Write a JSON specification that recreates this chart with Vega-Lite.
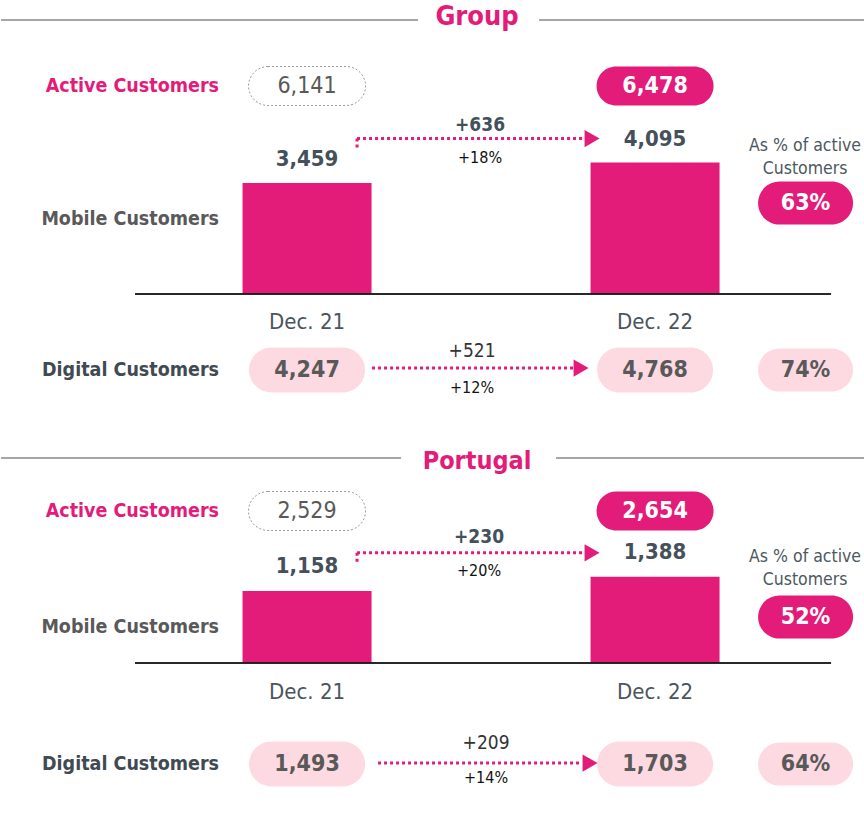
{
"$schema": "https://vega.github.io/schema/vega-lite/v6.json",
"padding": 0,
"spacing": 0,
"bounds": "flush",
"background": "#ffffff",
"resolve": {"scale": {"x": "shared"}},
"config": {"view": {"stroke": null}, "axis": {"disable": true}, "text": {"font": "DejaVu Sans Condensed"}},
"datasets": {
 "periods": [
  {"region": "Group", "period": "Dec. 21", "active": 6141, "mobile": 3459, "digital": 4247},
  {"region": "Group", "period": "Dec. 22", "active": 6478, "mobile": 4095, "digital": 4768},
  {"region": "Portugal", "period": "Dec. 21", "active": 2529, "mobile": 1158, "digital": 1493},
  {"region": "Portugal", "period": "Dec. 22", "active": 2654, "mobile": 1388, "digital": 1703}
 ],
 "changes": [
  {"region": "Group", "metric": "Mobile", "from": "Dec. 21", "to": "Dec. 22", "end": 4095, "delta": 636, "growth": 0.18},
  {"region": "Group", "metric": "Digital", "from": "Dec. 21", "to": "Dec. 22", "end": 4768, "delta": 521, "growth": 0.12},
  {"region": "Portugal", "metric": "Mobile", "from": "Dec. 21", "to": "Dec. 22", "end": 1388, "delta": 230, "growth": 0.20},
  {"region": "Portugal", "metric": "Digital", "from": "Dec. 21", "to": "Dec. 22", "end": 1703, "delta": 209, "growth": 0.14}
 ],
 "shares": [
  {"region": "Group", "metric": "Mobile", "share": 0.63},
  {"region": "Group", "metric": "Digital", "share": 0.74},
  {"region": "Portugal", "metric": "Mobile", "share": 0.52},
  {"region": "Portugal", "metric": "Digital", "share": 0.64}
 ],
 "labels": [
  {"region": "Group", "row": "title", "label": "Group"},
  {"region": "Group", "row": "active", "label": "Active Customers"},
  {"region": "Group", "row": "mobile", "label": "Mobile Customers"},
  {"region": "Group", "row": "digital", "label": "Digital Customers"},
  {"region": "Group", "row": "share", "label": "As % of active\nCustomers"},
  {"region": "Portugal", "row": "title", "label": "Portugal"},
  {"region": "Portugal", "row": "active", "label": "Active Customers"},
  {"region": "Portugal", "row": "mobile", "label": "Mobile Customers"},
  {"region": "Portugal", "row": "digital", "label": "Digital Customers"},
  {"region": "Portugal", "row": "share", "label": "As % of active\nCustomers"}
 ]
},
"vconcat": [
 {
  "width": 864, "height": 40,
  "data": {"name": "labels"},
  "transform": [{"filter": "datum.region === 'Group' && datum.row === 'title'"}],
  "layer": [
   {"mark": {"type": "rule", "color": "#A6A6A6", "strokeWidth": 2, "xOffset": -306, "x2Offset": 111},
    "encoding": {"x": {"datum": "Dec. 21", "type": "nominal", "scale": {"type": "band", "domain": ["Dec. 21", "Dec. 22"], "paddingInner": 0.6293, "paddingOuter": 0.556, "align": 0.619, "round": false}}, "x2": {"datum": "Dec. 21"}}},
   {"mark": {"type": "rule", "color": "#A6A6A6", "strokeWidth": 2, "xOffset": -116, "x2Offset": 212},
    "encoding": {"x": {"datum": "Dec. 22", "type": "nominal"}, "x2": {"datum": "Dec. 22"}}},
   {"mark": {"type": "text", "color": "#E31C79", "fontWeight": "bold", "fontSize": 27, "dx": 170, "dy": -3},
    "encoding": {"x": {"datum": "Dec. 21", "type": "nominal"}, "text": {"field": "label"}}}
  ]
 },
 {
  "width": 864, "height": 92,
  "data": {"name": "periods"},
  "transform": [{"filter": "datum.region === 'Group'"}],
  "layer": [
   {"data": {"name": "labels"}, "transform": [{"filter": "datum.region === 'Group' && datum.row === 'active'"}],
    "mark": {"type": "text", "align": "right", "dx": -88, "fontWeight": "bold", "fontSize": 19.5, "color": "#E31C79"},
    "encoding": {"x": {"datum": "Dec. 21", "type": "nominal", "scale": {"type": "band", "domain": ["Dec. 21", "Dec. 22"], "paddingInner": 0.6293, "paddingOuter": 0.556, "align": 0.619, "round": false}}, "text": {"field": "label"}}},
   {"transform": [{"filter": "datum.period === 'Dec. 21'"}],
    "mark": {"type": "point", "shape": "M -0.6667,-0.3333 L 0.6667,-0.3333 A 0.3333,0.3333 0 0 1 0.6667,0.3333 L -0.6667,0.3333 A 0.3333,0.3333 0 0 1 -0.6667,-0.3333 Z", "size": 13689, "filled": true, "fill": "#ffffff", "stroke": "#9B9B9B", "strokeWidth": 1, "strokeDash": [2, 2], "opacity": 1},
    "encoding": {"x": {"field": "period", "type": "nominal"}}},
   {"transform": [{"filter": "datum.period === 'Dec. 22'"}],
    "mark": {"type": "point", "shape": "M -0.6667,-0.3333 L 0.6667,-0.3333 A 0.3333,0.3333 0 0 1 0.6667,0.3333 L -0.6667,0.3333 A 0.3333,0.3333 0 0 1 -0.6667,-0.3333 Z", "size": 13689, "filled": true, "fill": "#E31C79", "strokeWidth": 0, "opacity": 1},
    "encoding": {"x": {"field": "period", "type": "nominal"}}},
   {"transform": [{"filter": "datum.period === 'Dec. 21'"}],
    "mark": {"type": "text", "fontSize": 23, "color": "#595959"},
    "encoding": {"x": {"field": "period", "type": "nominal"}, "text": {"field": "active", "format": ","}}},
   {"transform": [{"filter": "datum.period === 'Dec. 22'"}],
    "mark": {"type": "text", "fontSize": 23, "fontWeight": "bold", "color": "#ffffff"},
    "encoding": {"x": {"field": "period", "type": "nominal"}, "text": {"field": "active", "format": ","}}}
  ]
 },
 {
  "width": 864, "height": 162,
  "data": {"name": "periods"},
  "transform": [{"filter": "datum.region === 'Group'"}],
  "layer": [
   {"mark": {"type": "bar", "color": "#E31C79"},
    "encoding": {"x": {"field": "period", "type": "nominal", "scale": {"type": "band", "domain": ["Dec. 21", "Dec. 22"], "paddingInner": 0.6293, "paddingOuter": 0.556, "align": 0.619, "round": false}}, "y": {"field": "mobile", "type": "quantitative", "scale": {"domain": [0, 5048], "nice": false, "zero": true}}}},
   {"mark": {"type": "rule", "color": "#1a1a1a", "strokeWidth": 1.5, "xOffset": -172, "x2Offset": 176},
    "encoding": {"x": {"datum": "Dec. 21", "type": "nominal"}, "x2": {"datum": "Dec. 22"}, "y": {"datum": 0, "type": "quantitative"}}},
   {"mark": {"type": "text", "fontSize": 22, "fontWeight": "bold", "color": "#44505A", "dy": -24},
    "encoding": {"x": {"field": "period", "type": "nominal"}, "y": {"field": "mobile", "type": "quantitative"}, "text": {"field": "mobile", "format": ","}}},
   {"data": {"name": "labels"}, "transform": [{"filter": "datum.region === 'Group' && datum.row === 'mobile'"}],
    "mark": {"type": "text", "align": "right", "dx": -88, "dy": 6, "fontWeight": "bold", "fontSize": 19.5, "color": "#595959"},
    "encoding": {"x": {"datum": "Dec. 21", "type": "nominal"}, "text": {"field": "label"}}},
   {"data": {"name": "changes"}, "transform": [{"filter": "datum.region === 'Group' && datum.metric === 'Mobile'"}],
    "mark": {"type": "rule", "color": "#E31C79", "strokeWidth": 3, "strokeDash": [3, 3], "xOffset": 50, "x2Offset": -70, "yOffset": -24},
    "encoding": {"x": {"field": "from", "type": "nominal"}, "x2": {"field": "to"}, "y": {"field": "end", "type": "quantitative"}}},
   {"data": {"name": "changes"}, "transform": [{"filter": "datum.region === 'Group' && datum.metric === 'Mobile'"}],
    "mark": {"type": "rule", "color": "#E31C79", "strokeWidth": 3, "strokeDash": [3, 3], "xOffset": 50, "yOffset": -24, "y2Offset": -12},
    "encoding": {"x": {"field": "from", "type": "nominal"}, "y": {"field": "end", "type": "quantitative"}, "y2": {"field": "end"}}},
   {"data": {"name": "changes"}, "transform": [{"filter": "datum.region === 'Group' && datum.metric === 'Mobile'"}],
    "mark": {"type": "point", "shape": "M -1,-1.15 L 1,0 L -1,1.15 Z", "size": 225, "filled": true, "color": "#E31C79", "opacity": 1, "xOffset": -63, "yOffset": -24},
    "encoding": {"x": {"field": "to", "type": "nominal"}, "y": {"field": "end", "type": "quantitative"}}},
   {"data": {"name": "changes"}, "transform": [{"filter": "datum.region === 'Group' && datum.metric === 'Mobile'"}],
    "mark": {"type": "text", "fontSize": 19, "fontWeight": "bold", "color": "#44505A", "dx": 173, "dy": -38},
    "encoding": {"x": {"field": "from", "type": "nominal"}, "y": {"field": "end", "type": "quantitative"}, "text": {"field": "delta", "format": "+,"}}},
   {"data": {"name": "changes"}, "transform": [{"filter": "datum.region === 'Group' && datum.metric === 'Mobile'"}],
    "mark": {"type": "text", "fontSize": 16, "font": "Liberation Sans Narrow, DejaVu Sans Condensed", "color": "#111111", "dx": 173, "dy": -5},
    "encoding": {"x": {"field": "from", "type": "nominal"}, "y": {"field": "end", "type": "quantitative"}, "text": {"field": "growth", "format": "+.0%"}}},
   {"data": {"name": "labels"}, "transform": [{"filter": "datum.region === 'Group' && datum.row === 'share'"}],
    "mark": {"type": "text", "lineBreak": "\n", "lineHeight": 23, "fontSize": 17.5, "color": "#4D5860", "dx": 150, "dy": -67},
    "encoding": {"x": {"datum": "Dec. 22", "type": "nominal"}, "text": {"field": "label"}}},
   {"data": {"name": "shares"}, "transform": [{"filter": "datum.region === 'Group' && datum.metric === 'Mobile'"}],
    "mark": {"type": "point", "shape": "M -0.5474,-0.4526 L 0.5474,-0.4526 A 0.4526,0.4526 0 0 1 0.5474,0.4526 L -0.5474,0.4526 A 0.4526,0.4526 0 0 1 -0.5474,-0.4526 Z", "size": 9025, "filled": true, "fill": "#E31C79", "strokeWidth": 0, "opacity": 1, "xOffset": 150.5, "yOffset": -10},
    "encoding": {"x": {"datum": "Dec. 22", "type": "nominal"}}},
   {"data": {"name": "shares"}, "transform": [{"filter": "datum.region === 'Group' && datum.metric === 'Mobile'"}],
    "mark": {"type": "text", "fontSize": 23, "fontWeight": "bold", "color": "#ffffff", "dx": 150.5, "dy": -10},
    "encoding": {"x": {"datum": "Dec. 22", "type": "nominal"}, "text": {"field": "share", "format": ".0%"}}}
  ]
 },
 {
  "width": 864, "height": 52,
  "data": {"name": "periods"},
  "transform": [{"filter": "datum.region === 'Group'"}],
  "mark": {"type": "text", "fontSize": 22, "color": "#4A545C", "dy": 2},
  "encoding": {"x": {"field": "period", "type": "nominal", "scale": {"type": "band", "domain": ["Dec. 21", "Dec. 22"], "paddingInner": 0.6293, "paddingOuter": 0.556, "align": 0.619, "round": false}}, "text": {"field": "period"}}
 },
 {
  "width": 864, "height": 48,
  "data": {"name": "periods"},
  "transform": [{"filter": "datum.region === 'Group'"}],
  "layer": [
   {"data": {"name": "labels"}, "transform": [{"filter": "datum.region === 'Group' && datum.row === 'digital'"}],
    "mark": {"type": "text", "align": "right", "dx": -88, "fontWeight": "bold", "fontSize": 19.5, "color": "#3F4A52"},
    "encoding": {"x": {"datum": "Dec. 21", "type": "nominal", "scale": {"type": "band", "domain": ["Dec. 21", "Dec. 22"], "paddingInner": 0.6293, "paddingOuter": 0.556, "align": 0.619, "round": false}}, "text": {"field": "label"}}},
   {"mark": {"type": "point", "shape": "M -0.6121,-0.3879 L 0.6121,-0.3879 A 0.3879,0.3879 0 0 1 0.6121,0.3879 L -0.6121,0.3879 A 0.3879,0.3879 0 0 1 -0.6121,-0.3879 Z", "size": 13456, "filled": true, "fill": "#FDDAE2", "strokeWidth": 0, "opacity": 1},
    "encoding": {"x": {"field": "period", "type": "nominal"}}},
   {"mark": {"type": "text", "fontSize": 23, "fontWeight": "bold", "color": "#595959"},
    "encoding": {"x": {"field": "period", "type": "nominal"}, "text": {"field": "digital", "format": ","}}},
   {"data": {"name": "changes"}, "transform": [{"filter": "datum.region === 'Group' && datum.metric === 'Digital'"}],
    "mark": {"type": "rule", "color": "#E31C79", "strokeWidth": 3, "strokeDash": [3, 3], "xOffset": 65, "x2Offset": -81, "yOffset": -2},
    "encoding": {"x": {"field": "from", "type": "nominal"}, "x2": {"field": "to"}}},
   {"data": {"name": "changes"}, "transform": [{"filter": "datum.region === 'Group' && datum.metric === 'Digital'"}],
    "mark": {"type": "point", "shape": "M -1,-1.15 L 1,0 L -1,1.15 Z", "size": 225, "filled": true, "color": "#E31C79", "opacity": 1, "xOffset": -74, "yOffset": -2},
    "encoding": {"x": {"field": "to", "type": "nominal"}}},
   {"data": {"name": "changes"}, "transform": [{"filter": "datum.region === 'Group' && datum.metric === 'Digital'"}],
    "mark": {"type": "text", "fontSize": 19, "color": "#333333", "dx": 165, "dy": -19},
    "encoding": {"x": {"field": "from", "type": "nominal"}, "text": {"field": "delta", "format": "+,"}}},
   {"data": {"name": "changes"}, "transform": [{"filter": "datum.region === 'Group' && datum.metric === 'Digital'"}],
    "mark": {"type": "text", "fontSize": 16, "font": "Liberation Sans Narrow, DejaVu Sans Condensed", "color": "#111111", "dx": 165, "dy": 18},
    "encoding": {"x": {"field": "from", "type": "nominal"}, "text": {"field": "growth", "format": "+.0%"}}},
   {"data": {"name": "shares"}, "transform": [{"filter": "datum.region === 'Group' && datum.metric === 'Digital'"}],
    "mark": {"type": "point", "shape": "M -0.5474,-0.4526 L 0.5474,-0.4526 A 0.4526,0.4526 0 0 1 0.5474,0.4526 L -0.5474,0.4526 A 0.4526,0.4526 0 0 1 -0.5474,-0.4526 Z", "size": 9025, "filled": true, "fill": "#FDDAE2", "strokeWidth": 0, "opacity": 1, "xOffset": 150.5},
    "encoding": {"x": {"datum": "Dec. 22", "type": "nominal"}}},
   {"data": {"name": "shares"}, "transform": [{"filter": "datum.region === 'Group' && datum.metric === 'Digital'"}],
    "mark": {"type": "text", "fontSize": 23, "fontWeight": "bold", "color": "#595959", "dx": 150.5},
    "encoding": {"x": {"datum": "Dec. 22", "type": "nominal"}, "text": {"field": "share", "format": ".0%"}}}
  ]
 },
 {
  "width": 864, "height": 91,
  "data": {"name": "labels"},
  "transform": [{"filter": "datum.region === 'Portugal' && datum.row === 'title'"}],
  "layer": [
   {"mark": {"type": "rule", "color": "#A6A6A6", "strokeWidth": 2, "xOffset": -306, "x2Offset": 94, "yOffset": 18.5},
    "encoding": {"x": {"datum": "Dec. 21", "type": "nominal", "scale": {"type": "band", "domain": ["Dec. 21", "Dec. 22"], "paddingInner": 0.6293, "paddingOuter": 0.556, "align": 0.619, "round": false}}, "x2": {"datum": "Dec. 21"}}},
   {"mark": {"type": "rule", "color": "#A6A6A6", "strokeWidth": 2, "xOffset": -99, "x2Offset": 212, "yOffset": 18.5},
    "encoding": {"x": {"datum": "Dec. 22", "type": "nominal"}, "x2": {"datum": "Dec. 22"}}},
   {"mark": {"type": "text", "color": "#E31C79", "fontWeight": "bold", "fontSize": 25, "dx": 170, "dy": 21},
    "encoding": {"x": {"datum": "Dec. 21", "type": "nominal"}, "text": {"field": "label"}}}
  ]
 },
 {
  "width": 864, "height": 52,
  "data": {"name": "periods"},
  "transform": [{"filter": "datum.region === 'Portugal'"}],
  "layer": [
   {"data": {"name": "labels"}, "transform": [{"filter": "datum.region === 'Portugal' && datum.row === 'active'"}],
    "mark": {"type": "text", "align": "right", "dx": -88, "fontWeight": "bold", "fontSize": 19.5, "color": "#E31C79"},
    "encoding": {"x": {"datum": "Dec. 21", "type": "nominal", "scale": {"type": "band", "domain": ["Dec. 21", "Dec. 22"], "paddingInner": 0.6293, "paddingOuter": 0.556, "align": 0.619, "round": false}}, "text": {"field": "label"}}},
   {"transform": [{"filter": "datum.period === 'Dec. 21'"}],
    "mark": {"type": "point", "shape": "M -0.6667,-0.3333 L 0.6667,-0.3333 A 0.3333,0.3333 0 0 1 0.6667,0.3333 L -0.6667,0.3333 A 0.3333,0.3333 0 0 1 -0.6667,-0.3333 Z", "size": 13689, "filled": true, "fill": "#ffffff", "stroke": "#9B9B9B", "strokeWidth": 1, "strokeDash": [2, 2], "opacity": 1},
    "encoding": {"x": {"field": "period", "type": "nominal"}}},
   {"transform": [{"filter": "datum.period === 'Dec. 22'"}],
    "mark": {"type": "point", "shape": "M -0.6667,-0.3333 L 0.6667,-0.3333 A 0.3333,0.3333 0 0 1 0.6667,0.3333 L -0.6667,0.3333 A 0.3333,0.3333 0 0 1 -0.6667,-0.3333 Z", "size": 13689, "filled": true, "fill": "#E31C79", "strokeWidth": 0, "opacity": 1},
    "encoding": {"x": {"field": "period", "type": "nominal"}}},
   {"transform": [{"filter": "datum.period === 'Dec. 21'"}],
    "mark": {"type": "text", "fontSize": 23, "color": "#595959"},
    "encoding": {"x": {"field": "period", "type": "nominal"}, "text": {"field": "active", "format": ","}}},
   {"transform": [{"filter": "datum.period === 'Dec. 22'"}],
    "mark": {"type": "text", "fontSize": 23, "fontWeight": "bold", "color": "#ffffff"},
    "encoding": {"x": {"field": "period", "type": "nominal"}, "text": {"field": "active", "format": ","}}}
  ]
 },
 {
  "width": 864, "height": 126,
  "data": {"name": "periods"},
  "transform": [{"filter": "datum.region === 'Portugal'"}],
  "layer": [
   {"mark": {"type": "bar", "color": "#E31C79"},
    "encoding": {"x": {"field": "period", "type": "nominal", "scale": {"type": "band", "domain": ["Dec. 21", "Dec. 22"], "paddingInner": 0.6293, "paddingOuter": 0.556, "align": 0.619, "round": false}}, "y": {"field": "mobile", "type": "quantitative", "scale": {"domain": [0, 2029], "nice": false, "zero": true}}}},
   {"mark": {"type": "rule", "color": "#1a1a1a", "strokeWidth": 1.5, "xOffset": -172, "x2Offset": 176},
    "encoding": {"x": {"datum": "Dec. 21", "type": "nominal"}, "x2": {"datum": "Dec. 22"}, "y": {"datum": 0, "type": "quantitative"}}},
   {"mark": {"type": "text", "fontSize": 22, "fontWeight": "bold", "color": "#44505A", "dy": -25},
    "encoding": {"x": {"field": "period", "type": "nominal"}, "y": {"field": "mobile", "type": "quantitative"}, "text": {"field": "mobile", "format": ","}}},
   {"data": {"name": "labels"}, "transform": [{"filter": "datum.region === 'Portugal' && datum.row === 'mobile'"}],
    "mark": {"type": "text", "align": "right", "dx": -88, "dy": 27, "fontWeight": "bold", "fontSize": 19.5, "color": "#595959"},
    "encoding": {"x": {"datum": "Dec. 21", "type": "nominal"}, "text": {"field": "label"}}},
   {"data": {"name": "changes"}, "transform": [{"filter": "datum.region === 'Portugal' && datum.metric === 'Mobile'"}],
    "mark": {"type": "rule", "color": "#E31C79", "strokeWidth": 3, "strokeDash": [3, 3], "xOffset": 50, "x2Offset": -70, "yOffset": -24},
    "encoding": {"x": {"field": "from", "type": "nominal"}, "x2": {"field": "to"}, "y": {"field": "end", "type": "quantitative"}}},
   {"data": {"name": "changes"}, "transform": [{"filter": "datum.region === 'Portugal' && datum.metric === 'Mobile'"}],
    "mark": {"type": "rule", "color": "#E31C79", "strokeWidth": 3, "strokeDash": [3, 3], "xOffset": 50, "yOffset": -24, "y2Offset": -12},
    "encoding": {"x": {"field": "from", "type": "nominal"}, "y": {"field": "end", "type": "quantitative"}, "y2": {"field": "end"}}},
   {"data": {"name": "changes"}, "transform": [{"filter": "datum.region === 'Portugal' && datum.metric === 'Mobile'"}],
    "mark": {"type": "point", "shape": "M -1,-1.15 L 1,0 L -1,1.15 Z", "size": 225, "filled": true, "color": "#E31C79", "opacity": 1, "xOffset": -63, "yOffset": -24},
    "encoding": {"x": {"field": "to", "type": "nominal"}, "y": {"field": "end", "type": "quantitative"}}},
   {"data": {"name": "changes"}, "transform": [{"filter": "datum.region === 'Portugal' && datum.metric === 'Mobile'"}],
    "mark": {"type": "text", "fontSize": 19, "fontWeight": "bold", "color": "#44505A", "dx": 172, "dy": -40},
    "encoding": {"x": {"field": "from", "type": "nominal"}, "y": {"field": "end", "type": "quantitative"}, "text": {"field": "delta", "format": "+,"}}},
   {"data": {"name": "changes"}, "transform": [{"filter": "datum.region === 'Portugal' && datum.metric === 'Mobile'"}],
    "mark": {"type": "text", "fontSize": 16, "font": "Liberation Sans Narrow, DejaVu Sans Condensed", "color": "#111111", "dx": 172, "dy": -6},
    "encoding": {"x": {"field": "from", "type": "nominal"}, "y": {"field": "end", "type": "quantitative"}, "text": {"field": "growth", "format": "+.0%"}}},
   {"data": {"name": "labels"}, "transform": [{"filter": "datum.region === 'Portugal' && datum.row === 'share'"}],
    "mark": {"type": "text", "lineBreak": "\n", "lineHeight": 23, "fontSize": 17.5, "color": "#4D5860", "dx": 150, "dy": -43},
    "encoding": {"x": {"datum": "Dec. 22", "type": "nominal"}, "text": {"field": "label"}}},
   {"data": {"name": "shares"}, "transform": [{"filter": "datum.region === 'Portugal' && datum.metric === 'Mobile'"}],
    "mark": {"type": "point", "shape": "M -0.5474,-0.4526 L 0.5474,-0.4526 A 0.4526,0.4526 0 0 1 0.5474,0.4526 L -0.5474,0.4526 A 0.4526,0.4526 0 0 1 -0.5474,-0.4526 Z", "size": 9025, "filled": true, "fill": "#E31C79", "strokeWidth": 0, "opacity": 1, "xOffset": 150.5, "yOffset": 17},
    "encoding": {"x": {"datum": "Dec. 22", "type": "nominal"}}},
   {"data": {"name": "shares"}, "transform": [{"filter": "datum.region === 'Portugal' && datum.metric === 'Mobile'"}],
    "mark": {"type": "text", "fontSize": 23, "fontWeight": "bold", "color": "#ffffff", "dx": 150.5, "dy": 17},
    "encoding": {"x": {"datum": "Dec. 22", "type": "nominal"}, "text": {"field": "share", "format": ".0%"}}}
  ]
 },
 {
  "width": 864, "height": 58,
  "data": {"name": "periods"},
  "transform": [{"filter": "datum.region === 'Portugal'"}],
  "mark": {"type": "text", "fontSize": 22, "color": "#4A545C"},
  "encoding": {"x": {"field": "period", "type": "nominal", "scale": {"type": "band", "domain": ["Dec. 21", "Dec. 22"], "paddingInner": 0.6293, "paddingOuter": 0.556, "align": 0.619, "round": false}}, "text": {"field": "period"}}
 },
 {
  "width": 864, "height": 86,
  "data": {"name": "periods"},
  "transform": [{"filter": "datum.region === 'Portugal'"}],
  "layer": [
   {"data": {"name": "labels"}, "transform": [{"filter": "datum.region === 'Portugal' && datum.row === 'digital'"}],
    "mark": {"type": "text", "align": "right", "dx": -88, "fontWeight": "bold", "fontSize": 19.5, "color": "#3F4A52"},
    "encoding": {"x": {"datum": "Dec. 21", "type": "nominal", "scale": {"type": "band", "domain": ["Dec. 21", "Dec. 22"], "paddingInner": 0.6293, "paddingOuter": 0.556, "align": 0.619, "round": false}}, "text": {"field": "label"}}},
   {"mark": {"type": "point", "shape": "M -0.6121,-0.3879 L 0.6121,-0.3879 A 0.3879,0.3879 0 0 1 0.6121,0.3879 L -0.6121,0.3879 A 0.3879,0.3879 0 0 1 -0.6121,-0.3879 Z", "size": 13456, "filled": true, "fill": "#FDDAE2", "strokeWidth": 0, "opacity": 1},
    "encoding": {"x": {"field": "period", "type": "nominal"}}},
   {"mark": {"type": "text", "fontSize": 23, "fontWeight": "bold", "color": "#595959"},
    "encoding": {"x": {"field": "period", "type": "nominal"}, "text": {"field": "digital", "format": ","}}},
   {"data": {"name": "changes"}, "transform": [{"filter": "datum.region === 'Portugal' && datum.metric === 'Digital'"}],
    "mark": {"type": "rule", "color": "#E31C79", "strokeWidth": 3, "strokeDash": [3, 3], "xOffset": 71, "x2Offset": -73, "yOffset": -1},
    "encoding": {"x": {"field": "from", "type": "nominal"}, "x2": {"field": "to"}}},
   {"data": {"name": "changes"}, "transform": [{"filter": "datum.region === 'Portugal' && datum.metric === 'Digital'"}],
    "mark": {"type": "point", "shape": "M -1,-1.15 L 1,0 L -1,1.15 Z", "size": 225, "filled": true, "color": "#E31C79", "opacity": 1, "xOffset": -65, "yOffset": -1},
    "encoding": {"x": {"field": "to", "type": "nominal"}}},
   {"data": {"name": "changes"}, "transform": [{"filter": "datum.region === 'Portugal' && datum.metric === 'Digital'"}],
    "mark": {"type": "text", "fontSize": 19, "color": "#333333", "dx": 179, "dy": -21},
    "encoding": {"x": {"field": "from", "type": "nominal"}, "text": {"field": "delta", "format": "+,"}}},
   {"data": {"name": "changes"}, "transform": [{"filter": "datum.region === 'Portugal' && datum.metric === 'Digital'"}],
    "mark": {"type": "text", "fontSize": 16, "font": "Liberation Sans Narrow, DejaVu Sans Condensed", "color": "#111111", "dx": 179, "dy": 14},
    "encoding": {"x": {"field": "from", "type": "nominal"}, "text": {"field": "growth", "format": "+.0%"}}},
   {"data": {"name": "shares"}, "transform": [{"filter": "datum.region === 'Portugal' && datum.metric === 'Digital'"}],
    "mark": {"type": "point", "shape": "M -0.5474,-0.4526 L 0.5474,-0.4526 A 0.4526,0.4526 0 0 1 0.5474,0.4526 L -0.5474,0.4526 A 0.4526,0.4526 0 0 1 -0.5474,-0.4526 Z", "size": 9025, "filled": true, "fill": "#FDDAE2", "strokeWidth": 0, "opacity": 1, "xOffset": 150.5},
    "encoding": {"x": {"datum": "Dec. 22", "type": "nominal"}}},
   {"data": {"name": "shares"}, "transform": [{"filter": "datum.region === 'Portugal' && datum.metric === 'Digital'"}],
    "mark": {"type": "text", "fontSize": 23, "fontWeight": "bold", "color": "#595959", "dx": 150.5},
    "encoding": {"x": {"datum": "Dec. 22", "type": "nominal"}, "text": {"field": "share", "format": ".0%"}}}
  ]
 }
]
}
